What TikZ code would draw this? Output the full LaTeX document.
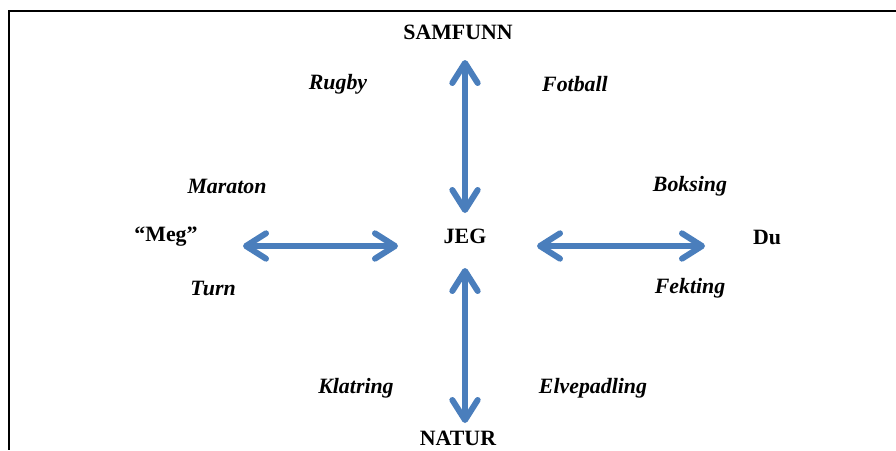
\documentclass[tikz,border=0pt]{standalone}
\usepackage{fontspec}
\setmainfont{Liberation Serif}
\usepackage{tikz}
\usetikzlibrary{arrows.meta}
\definecolor{myblue}{RGB}{74,126,188}
\tikzset{
  >={Straight Barb[round,length=15pt,width=19pt]},
  word/.style={font=\fontsize{16.4}{19}\selectfont\bfseries},
  sport/.style={font=\fontsize{16.4}{19}\selectfont\bfseries\itshape},
  link/.style={<->,line width=4.5pt,myblue,line cap=round}
}

\begin{document}
\begin{tikzpicture}[x=0.75pt,y=-0.75pt]
\useasboundingbox (0,0) rectangle (896,450);

% Frame
\draw[line width=1.2pt] (896,11) -- (9,11) -- (9,450);

% Main words
\node[word] (jeg) at (465,236) {JEG};
\node[word] (samfunn) at (458,32) {SAMFUNN};
\node[word] (natur) at (458,438) {NATUR};
\node[word] (meg) at (166,237) {“Meg”};
\node[word] (du) at (767,237) {Du};

% Sports
\node[sport] (rugby) at (338,84) {Rugby};
\node[sport] (fotball) at (575,84) {Fotball};
\node[sport] (maraton) at (227,186) {Maraton};
\node[sport] (turn) at (213,288) {Turn};
\node[sport] (boksing) at (690,186) {Boksing};
\node[sport] (fekting) at (690,288) {Fekting};
\node[sport] (klatring) at (356,388) {Klatring};
\node[sport] (elvepadling) at (593,388) {Elvepadling};

% Arrow ends
\coordinate (up a) at (465,60);
\coordinate (up b) at (465,213);
\coordinate (down a) at (465,268);
\coordinate (down b) at (465,423);
\coordinate (left a) at (243,246);
\coordinate (left b) at (398,246);
\coordinate (right a) at (537,246);
\coordinate (right b) at (705,246);

% Arrows
\draw[link] (up a) -- (up b);
\draw[link] (down a) -- (down b);
\draw[link] (left a) -- (left b);
\draw[link] (right a) -- (right b);

\end{tikzpicture}
\end{document}
